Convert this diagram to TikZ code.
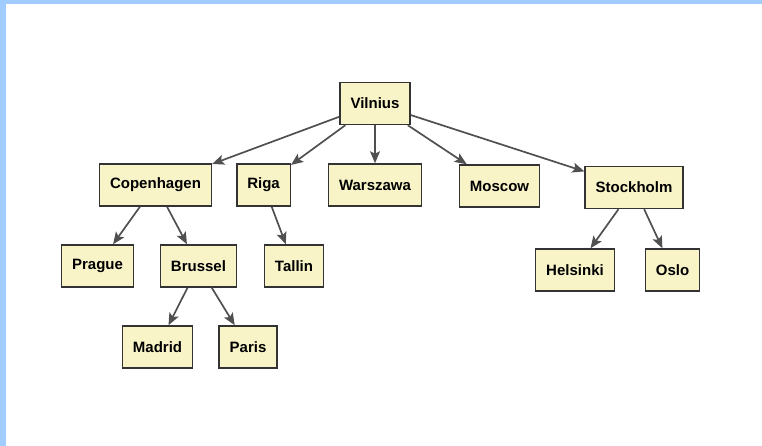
\documentclass[tikz,border=0pt]{standalone}
\usepackage{fontspec}
\setmainfont{Liberation Sans}
\usetikzlibrary{arrows.meta}
\definecolor{framecol}{HTML}{A0CCFF}
\definecolor{citycol}{HTML}{F8F4C8}
\definecolor{edgecol}{HTML}{505050}

\begin{document}
\begin{tikzpicture}[
    x=1pt, y=-1pt,
    >={Stealth[length=12pt, width=10pt, inset=2.5pt]},
    city/.style={
        draw=black!80, fill=citycol, line width=1.5pt,
        minimum height=42pt, inner xsep=10.5pt,
        font=\fontsize{15pt}{17pt}\selectfont\bfseries
    },
    link/.style={->, line width=1.7pt, color=edgecol},
]
\useasboundingbox (0,0) rectangle (762,446);

% ===== Frame =====
\fill[framecol] (0,0) rectangle (5.5,446);
\fill[framecol] (0,0) rectangle (762,4);

% ===== Root =====
\node[city] (vilnius) at (375,103.5) {Vilnius};

% ===== Level 1 =====
\node[city] (copenhagen) at (155.5,185) {Copenhagen};
\node[city] (riga)       at (263.5,185) {Riga};
\node[city] (warszawa)   at (375,185)   {Warszawa};
\node[city] (moscow)     at (499.5,186) {Moscow};
\node[city] (stockholm)  at (634,187.5) {Stockholm};

% ===== Level 2 =====
\node[city] (prague)   at (97.5,266) {Prague};
\node[city] (brussel)  at (198.5,266) {Brussel};
\node[city] (tallin)   at (294,266) {Tallin};
\node[city] (helsinki) at (575,270) {Helsinki};
\node[city] (oslo)     at (672.5,270) {Oslo};

% ===== Level 3 =====
\node[city] (madrid) at (157.5,347) {Madrid};
\node[city] (paris)  at (248,347)   {Paris};

% ===== ARROWS =====
\draw[link] (vilnius) -- (copenhagen);
\draw[link] (vilnius) -- (riga);
\draw[link] (vilnius) -- (warszawa);
\draw[link] (vilnius) -- (moscow);
\draw[link] (vilnius) -- (stockholm);

\draw[link] (copenhagen) -- (prague);
\draw[link] (copenhagen) -- (brussel);
\draw[link] (riga) -- (tallin);
\draw[link] (stockholm) -- (helsinki);
\draw[link] (stockholm) -- (oslo);

\draw[link] (brussel) -- (madrid);
\draw[link] (brussel) -- (paris);

\end{tikzpicture}
\end{document}
